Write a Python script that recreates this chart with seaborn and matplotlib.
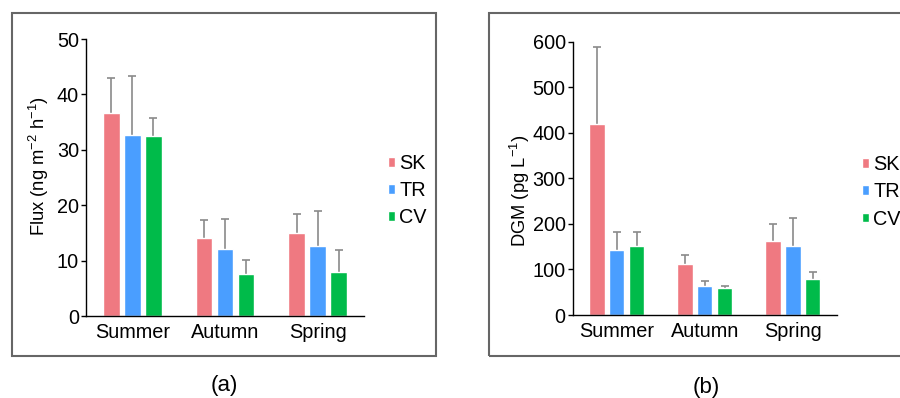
import seaborn as sns
import matplotlib.pyplot as plt
import pandas as pd
from matplotlib.patches import Rectangle

# 数据
seasons = ["Summer", "Autumn", "Spring"]
sites = ["SK", "TR", "CV"]
colors = ["#EF7981", "#4A9EFF", "#00BB4A"]

flux_mean = {"SK": [36.6, 14.1, 14.9], "TR": [32.6, 12.1, 12.7], "CV": [32.5, 7.5, 7.9]}
flux_sd = {"SK": [6.3, 3.2, 3.6], "TR": [10.8, 5.4, 6.2], "CV": [3.2, 2.7, 4.0]}

dgm_mean = {"SK": [420, 113, 162], "TR": [143, 64, 152], "CV": [152, 60, 79]}
dgm_sd = {"SK": [169, 18, 37], "TR": [39, 11, 62], "CV": [30, 4, 15]}

sns.set_style("ticks")
plt.rcParams["font.family"] = ["Liberation Sans", "DejaVu Sans"]
plt.rcParams["mathtext.default"] = "regular"
plt.rcParams["text.color"] = "black"
plt.rcParams["axes.labelcolor"] = "black"
plt.rcParams["xtick.color"] = "black"
plt.rcParams["ytick.color"] = "black"
plt.rcParams["axes.edgecolor"] = "black"

FS = 14.3


def to_df(mean):
    rows = []
    for s in sites:
        for season, v in zip(seasons, mean[s]):
            rows.append({"season": season, "site": s, "value": v})
    return pd.DataFrame(rows)


def plot_panel(ax, mean, sd, ylim, yticks, ylabel, label_xy, legend_xy):
    df = to_df(mean)
    sns.barplot(data=df, x="season", y="value", hue="site", hue_order=sites,
                palette=colors, width=0.68, gap=0.22, errorbar=None,
                saturation=1, ax=ax, legend=True, zorder=2)
    # 误差线（只露出上半部分）
    for cont, s in zip(ax.containers, sites):
        for bar, e in zip(cont, sd[s]):
            x = bar.get_x() + bar.get_width() / 2
            ax.errorbar(x, bar.get_height(), yerr=e, color="#8a8a8a",
                        elinewidth=1.2, capsize=3.0, capthick=1.2, zorder=1)
    ax.set_ylim(*ylim)
    ax.set_yticks(yticks)
    ax.set_xlim(-0.5, 2.5)
    ax.set_xlabel("")
    ax.set_ylabel(ylabel, fontsize=13.2)
    ax.yaxis.set_label_coords(*label_xy)
    sns.despine(ax=ax)
    ax.spines["left"].set_linewidth(1.0)
    ax.spines["bottom"].set_linewidth(1.0)
    ax.tick_params(axis="y", labelsize=FS, length=3.5, width=1, pad=1.5)
    ax.tick_params(axis="x", labelsize=FS, length=0, pad=5)
    leg = ax.legend(loc="center left", bbox_to_anchor=legend_xy,
                    bbox_transform=ax.figure.transFigure, frameon=False,
                    fontsize=FS, handlelength=0.38, handleheight=0.38,
                    handletextpad=0.2, labelspacing=0.41, borderpad=0,
                    borderaxespad=0)
    return leg


fig = plt.figure(figsize=(9, 3.98), dpi=100)
ax1 = fig.add_axes([0.0956, 0.206, 0.3088, 0.696])
ax2 = fig.add_axes([0.6363, 0.2085, 0.2934, 0.6867])

plot_panel(ax1, flux_mean, flux_sd, (0, 50), [0, 10, 20, 30, 40, 50],
           "Flux (ng m$^{-2}$ h$^{-1}$)", (-0.126, 0.54), (0.431, 0.521))
plot_panel(ax2, dgm_mean, dgm_sd, (0, 600), [0, 100, 200, 300, 400, 500, 600],
           "DGM (pg L$^{-1}$)", (-0.154, 0.455), (0.9574, 0.5176))

# 外框
for x0, x1 in [(0.0133, 0.4844), (0.5433, 1.2)]:
    fig.add_artist(Rectangle((x0, 0.1055), x1 - x0, 0.8615, transform=fig.transFigure,
                             fill=False, edgecolor="#666666", linewidth=1.5))

fig.text(224 / 900, (398 - 386) / 398, "(a)", ha="center", va="center", fontsize=16)
fig.text(706.7 / 900, (398 - 387) / 398, "(b)", ha="center", va="center", fontsize=16)

fig.savefig("out.png", dpi=100)
